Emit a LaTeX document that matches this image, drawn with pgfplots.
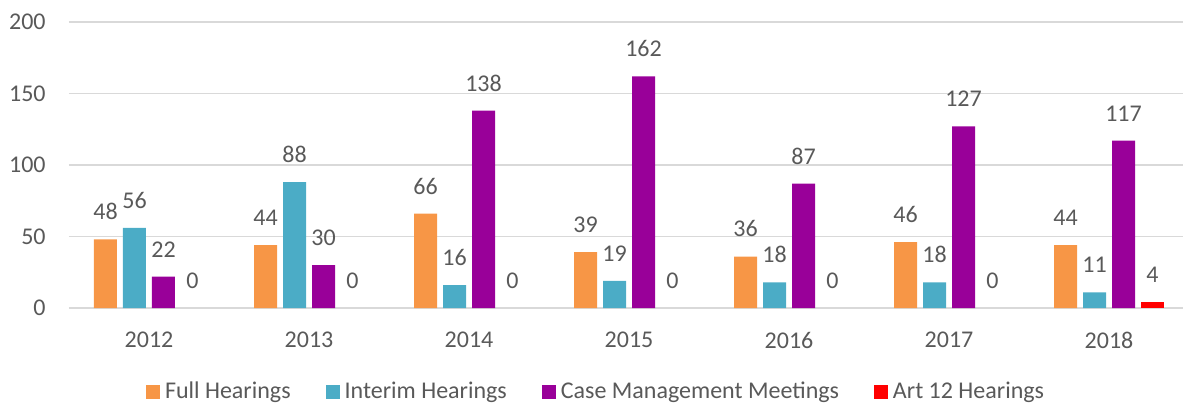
\documentclass[border=0pt]{standalone}
\usepackage{fontspec}
\setmainfont{Carlito}
\usepackage{pgfplots}
\pgfplotsset{compat=1.18}
\definecolor{cFull}{HTML}{F79646}
\definecolor{cInt}{HTML}{4BACC6}
\definecolor{cCMM}{HTML}{990099}
\definecolor{cArt}{HTML}{FF0000}
\definecolor{txt}{HTML}{595959}
\definecolor{grd}{HTML}{D9D9D9}
\begin{document}
\begin{tikzpicture}
\useasboundingbox (-34.5pt,-50pt) rectangle (557pt,154pt);
\begin{axis}[
  scale only axis,
  width=557pt, height=143pt,
  xmin=-0.5, xmax=6.4625,
  ymin=0, ymax=200,
  ybar, bar width=11.5pt,
  xtick={0,1,2,3,4,5,6},
  xticklabels={2012,2013,2014,2015,2016,2017,2018},
  ytick={0,50,100,150,200},
  ymajorgrids,
  grid style={grd, line width=0.75pt},
  axis line style={draw=none},
  major tick length=0pt,
  /pgf/number format/assume math mode=true,
  tick label style={font=\fontsize{12}{14}\selectfont, text=txt, inner sep=0pt},
  xticklabel style={anchor=north, yshift=-11.8pt},
  yticklabel style={anchor=east, xshift=-11.5pt},
  nodes near coords,
  every node near coord/.append style={font=\fontsize{12}{14}\selectfont, text=txt, inner sep=0pt, anchor=south, yshift=9.5pt},
  legend columns=4,
  legend style={draw=none, at={(0.474,-0.2937)}, anchor=center, font=\fontsize{12}{14}\selectfont, text=txt,
    /tikz/every odd column/.append style={column sep=0.5pt},
    /tikz/every even column/.append style={column sep=15.5pt}},
  legend image code/.code={\fill[#1] (0pt,-3.5pt) rectangle (7pt,3.5pt);},
]
\addplot[fill=cFull, draw=none, bar shift=-21.75pt] coordinates {(0,48) (1,44) (2,66) (3,39) (4,36) (5,46) (6,44)};
\addplot[fill=cInt, draw=none, bar shift=-7.25pt] coordinates {(0,56) (1,88) (2,16) (3,19) (4,18) (5,18) (6,11)};
\addplot[fill=cCMM, draw=none, bar shift=7.25pt] coordinates {(0,22) (1,30) (2,138) (3,162) (4,87) (5,127) (6,117)};
\addplot[fill=cArt, draw=none, bar shift=21.75pt] coordinates {(6,4)};
\addplot[fill=none, draw=none, bar shift=21.75pt, forget plot] coordinates {(0,0) (1,0) (2,0) (3,0) (4,0) (5,0)};
\legend{Full Hearings, Interim Hearings, Case Management Meetings, Art 12 Hearings}
\end{axis}
\end{tikzpicture}
\end{document}
